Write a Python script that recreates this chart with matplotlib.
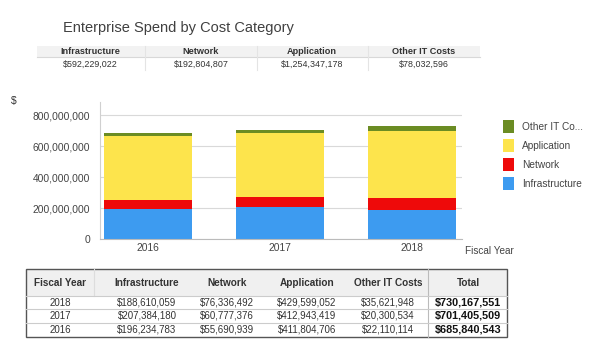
import matplotlib.pyplot as plt
from matplotlib.patches import Rectangle, Patch
from matplotlib.ticker import FuncFormatter

years = ['2016', '2017', '2018']
categories = ['Infrastructure', 'Network', 'Application', 'Other IT Costs']
infrastructure = [196234783, 207384180, 188610059]
network = [55690939, 60777376, 76336492]
application = [411804706, 412943419, 429599052]
other_it = [22110114, 20300534, 35621948]
# totals as printed in the source report
year_totals = [685840543, 701405509, 730167551]
category_totals = [592229022, 192804807, 1254347178, 78032596]
colors = ['#3d9bf0', '#ee0a0a', '#fde44c', '#6b8c23']

series = [infrastructure, network, application, other_it]

plt.rcParams['font.family'] = ['Liberation Sans', 'DejaVu Sans']
fig = plt.figure(figsize=(6, 3.5), dpi=100)

# overlay in pixel coordinates for title and tables
ov = fig.add_axes([0, 0, 1, 1])
ov.set_xlim(0, 600)
ov.set_ylim(350, 0)
ov.axis('off')

ov.text(63, 28, 'Enterprise Spend by Cost Category', fontsize=10.5,
        color='#404040', va='center', ha='left')

# summary strip
ov.add_patch(Rectangle((37, 46), 443, 11, facecolor='#f2f2f2', edgecolor='none'))
ov.plot([37, 480], [57, 57], color='#d8d8d8', lw=0.8)
col_x = [90, 201, 312, 424]
for xd in [145, 257, 368]:
    ov.plot([xd, xd], [46, 70], color='#e4e4e4', lw=0.8)
for x, name, val in zip(col_x, categories, category_totals):
    ov.text(x, 52, name, fontsize=6.6, fontweight='bold', color='#333333',
            ha='center', va='center')
    ov.text(x, 64, f'${val:,}', fontsize=6.4, color='#333333',
            ha='center', va='center')

ov.text(14, 101, '$', fontsize=7.5, color='#333333', ha='center', va='center')

# bottom table
ov.add_patch(Rectangle((26, 269), 481, 27, facecolor='#f0f0f0', edgecolor='none'))
ov.add_patch(Rectangle((26, 269), 481, 68, facecolor='none', edgecolor='#555555', lw=1))
ov.plot([94, 94], [269, 296], color='#dddddd', lw=0.8)
ov.plot([428, 428], [269, 337], color='#bbbbbb', lw=0.8)
for yl in [296, 309, 323]:
    ov.plot([26, 507], [yl, yl], color='#cccccc', lw=0.8)
tcols = [60, 147, 227, 307, 388, 468]
headers = ['Fiscal Year'] + categories + ['Total']
for x, h in zip(tcols, headers):
    ov.text(x, 283, h, fontsize=7.2, fontweight='bold', color='#333333',
            ha='center', va='center')
row_y = [302.5, 316, 330]
for ry, i in zip(row_y, [2, 1, 0]):
    vals = [years[i]] + [f'${s[i]:,}' for s in series]
    for x, v in zip(tcols[:-1], vals):
        ov.text(x, ry, v, fontsize=7, color='#333333', ha='center', va='center')
    ov.text(tcols[-1], ry, f'${year_totals[i]:,}', fontsize=7.8, fontweight='bold',
            color='#111111', ha='center', va='center')

# chart
ax = fig.add_axes([100 / 600, 1 - 239 / 350, 362 / 600, 137 / 350])
bottom = [0, 0, 0]
for s, c, name in zip(series, colors, categories):
    ax.bar(range(len(years)), s, width=0.67, bottom=bottom, color=c, label=name, zorder=2)
    bottom = [b + v for b, v in zip(bottom, s)]
ax.set_xlim(-0.365, 2.38)
ax.set_ylim(0, 8.84e8)
ax.set_yticks([0, 2e8, 4e8, 6e8, 8e8])
ax.yaxis.set_major_formatter(FuncFormatter(lambda v, p: f'{int(v):,}'))
ax.set_xticks(range(len(years)))
ax.set_xticklabels(years)
ax.grid(axis='y', color='#d9d9d9', lw=0.8, zorder=0)
for sp in ['top', 'right']:
    ax.spines[sp].set_visible(False)
ax.spines['left'].set_color('#d0d0d0')
ax.spines['bottom'].set_color('#bbbbbb')
ax.tick_params(axis='both', length=0, labelsize=7.4, colors='#444444', pad=7)
ax.tick_params(axis='x', pad=3)
ov.text(465, 251, 'Fiscal Year', fontsize=7.2, color='#444444', ha='left', va='center')

labels = ['Infrastructure', 'Network', 'Application', 'Other IT Co...']
handles = [Patch(facecolor=c) for c in colors]
fig.legend(handles[::-1], labels[::-1], loc='upper left',
           bbox_to_anchor=(494 / 600, 1 - 111 / 350), frameon=False,
           fontsize=7.3, handlelength=1.1, handleheight=1.6,
           labelspacing=0.6, handletextpad=0.8, labelcolor='#444444')

fig.savefig('out.png', dpi=100)
